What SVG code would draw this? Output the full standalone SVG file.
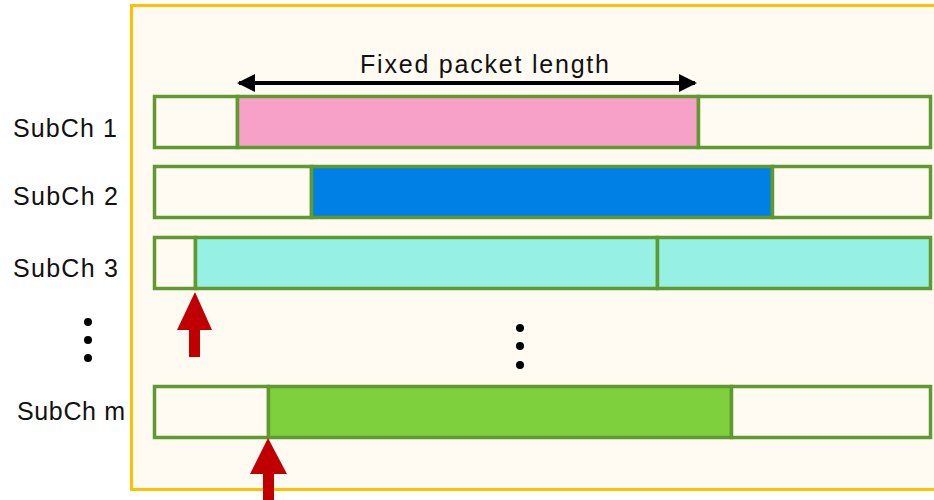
<svg xmlns="http://www.w3.org/2000/svg" width="934" height="500" viewBox="0 0 934 500">
<style>
.lbl{font-family:"Liberation Sans",Arial,sans-serif;font-size:25px;fill:#111}
.seg{stroke:#5E9A2E;stroke-width:3.5}
.dot{fill:#000}
.red{fill:#C00000}
</style>
<defs>
<marker id="ah" markerWidth="4.5" markerHeight="4.5" refX="4" refY="2.25" orient="auto-start-reverse" markerUnits="strokeWidth">
<path d="M0,0 L4.5,2.25 L0,4.5 z" fill="#000"/>
</marker>
</defs>
<rect x="0" y="0" width="934" height="500" fill="#fff"/>
<rect id="frame" x="131.5" y="5.5" width="830" height="484" fill="#FFFBF3" stroke="#FFC000" stroke-width="3"/>
<g id="subch1">
<text class="lbl" x="13" y="137" textLength="104" lengthAdjust="spacing">SubCh 1</text>
<rect class="seg" x="154.5" y="96.5" width="83" height="51" fill="#FFFBF3"/>
<rect class="seg" x="237.5" y="96.5" width="461" height="51" fill="#F7A1C9"/>
<rect class="seg" x="698.5" y="96.5" width="232" height="51" fill="#FFFBF3"/>
</g>
<g id="subch2">
<text class="lbl" x="13" y="205" textLength="105" lengthAdjust="spacing">SubCh 2</text>
<rect class="seg" x="154.5" y="166.5" width="157" height="51" fill="#FFFBF3"/>
<rect class="seg" x="311.5" y="166.5" width="461" height="51" fill="#0080E5"/>
<rect class="seg" x="772.5" y="166.5" width="158" height="51" fill="#FFFBF3"/>
</g>
<g id="subch3">
<text class="lbl" x="13" y="277" textLength="105" lengthAdjust="spacing">SubCh 3</text>
<rect class="seg" x="154.5" y="237.5" width="41" height="51" fill="#FFFBF3"/>
<rect class="seg" x="195.5" y="237.5" width="462" height="51" fill="#96F0E4"/>
<rect class="seg" x="657.5" y="237.5" width="273" height="51" fill="#96F0E4"/>
</g>
<g id="subchm">
<text class="lbl" x="17" y="420" textLength="108" lengthAdjust="spacing">SubCh m</text>
<rect class="seg" x="154.5" y="386.5" width="114" height="51" fill="#FFFBF3"/>
<rect class="seg" x="268.5" y="386.5" width="463" height="51" fill="#7ED13C"/>
<rect class="seg" x="731.5" y="386.5" width="199" height="51" fill="#FFFBF3"/>
</g>
<g id="dots">
<circle class="dot" cx="88" cy="322" r="4"/>
<circle class="dot" cx="88" cy="340" r="4"/>
<circle class="dot" cx="88" cy="358" r="4"/>
<circle class="dot" cx="520" cy="328" r="4"/>
<circle class="dot" cx="520" cy="346" r="4"/>
<circle class="dot" cx="520" cy="365" r="4"/>
</g>
<g id="connectors">
<line x1="239" y1="83" x2="695" y2="83" stroke="#000" stroke-width="4" marker-start="url(#ah)" marker-end="url(#ah)"/>
<text class="lbl" x="360" y="73" textLength="249" lengthAdjust="spacing">Fixed packet length</text>
<path class="red" d="M195,292 L212,330 L200,330 L200,357 L189,357 L189,330 L177,330 Z"/>
<path class="red" d="M268,438 L287,474 L274,474 L274,500 L263,500 L263,474 L250,474 Z"/>
</g>
</svg>
